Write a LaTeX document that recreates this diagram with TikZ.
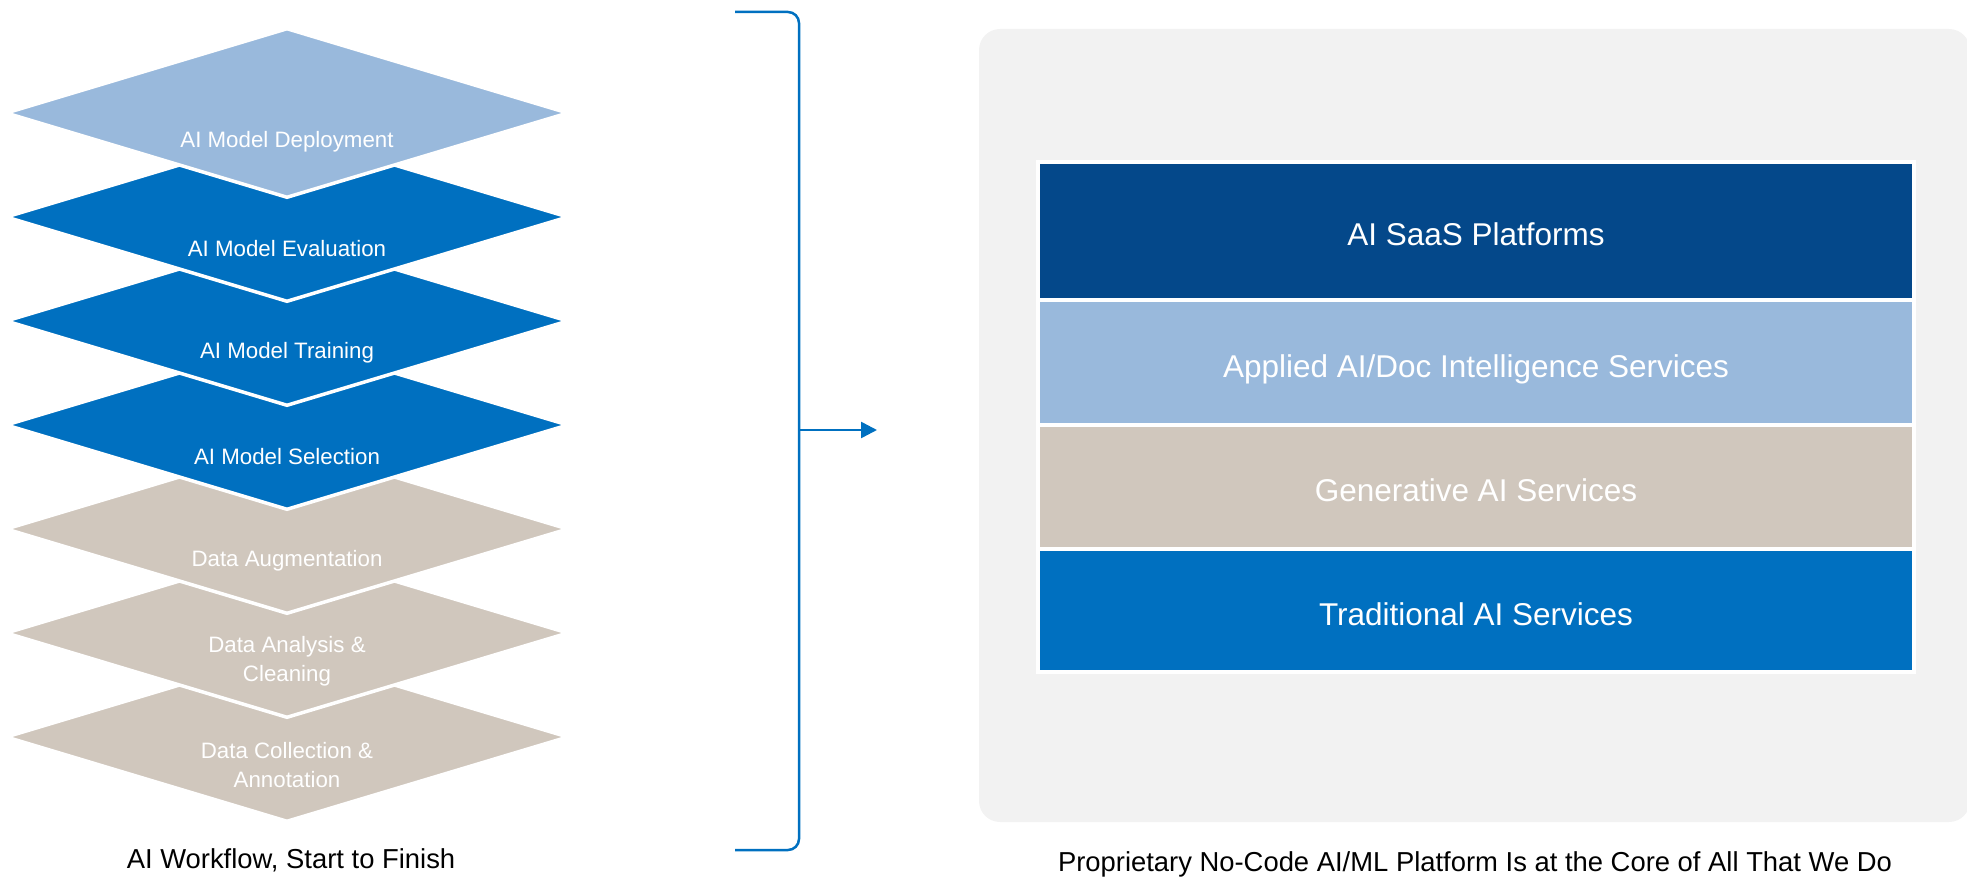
\documentclass[tikz,border=0pt]{standalone}
\usepackage{fontspec}
\setmainfont{Liberation Sans}
\usetikzlibrary{shapes.geometric,positioning,arrows.meta}

\definecolor{navy}{RGB}{4,72,138}
\definecolor{paleblue}{RGB}{153,185,220}
\definecolor{sand}{RGB}{208,199,189}
\definecolor{corpblue}{RGB}{0,112,192}
\definecolor{panel}{RGB}{242,242,242}

\tikzset{
    layer/.style={diamond, fill=#1, draw=white, line width=3.5pt, minimum width=563pt, minimum height=170pt, inner sep=0pt},
    layertext/.style={text=white, font=\fontsize{22.3}{29}\selectfont, align=center, inner sep=0pt},
    tier/.style={rectangle, fill=#1, draw=white, line width=4pt, minimum width=876pt, minimum height=124pt, outer sep=0pt, text=white, text height=33pt, text depth=3pt, font=\fontsize{31.5}{36}\selectfont},
    caption/.style={font=\fontsize{27.4}{32}\selectfont, text=black}
}

\begin{document}
\begin{tikzpicture}[x=1pt,y=-1pt]
    \useasboundingbox (0,0) rectangle (1967,877);

    % workflow layers, bottom one first
    \foreach \i/\col/\dy/\txt in {6/sand/28/Data Collection \&\\Annotation, 5/sand/28/Data Analysis \&\\Cleaning, 4/sand/32/Data Augmentation, 3/corpblue/32/AI Model Selection, 2/corpblue/32/AI Model Training, 1/corpblue/32/AI Model Evaluation, 0/paleblue/29/AI Model Deployment}
    {
        \node[layer=\col] (d\i) at (287,113+104*\i) {};
        \node[layertext] (t\i) at ([yshift=-\dy pt]d\i.center) {\txt};
    }
    \node[caption] (wfcap) at (291,860) {AI Workflow, Start to Finish};

    % bracket and arrow
    \coordinate (brtop) at (735,12);
    \coordinate (brbot) at (735,850);
    \coordinate (brmid) at (799,430);
    \coordinate (tip) at (877,430);
    \draw[corpblue, line width=2.5pt, rounded corners=11pt] (brtop) -- (brtop -| brmid) -- (brbot -| brmid) -- (brbot);
    \draw[corpblue, line width=2.5pt, -{Triangle[length=16pt,width=16pt]}] (brmid) -- (tip);

    % platform
    \fill[panel, rounded corners=21pt] (979,29) rectangle (1970,822);
    \node[tier=navy, minimum height=138pt] (saas) at (1476,231) {AI SaaS Platforms};
    \node[tier=paleblue, minimum height=124.5pt, below=0pt of saas] (applied) {Applied AI/Doc Intelligence Services};
    \node[tier=sand, below=0pt of applied] (genai) {Generative AI Services};
    \node[tier=corpblue, minimum height=123.5pt, below=0pt of genai] (trad) {Traditional AI Services};
    \node[caption] (platcap) at (1475,864) {Proprietary No-Code AI/ML Platform Is at the Core of All That We Do};
\end{tikzpicture}
\end{document}
